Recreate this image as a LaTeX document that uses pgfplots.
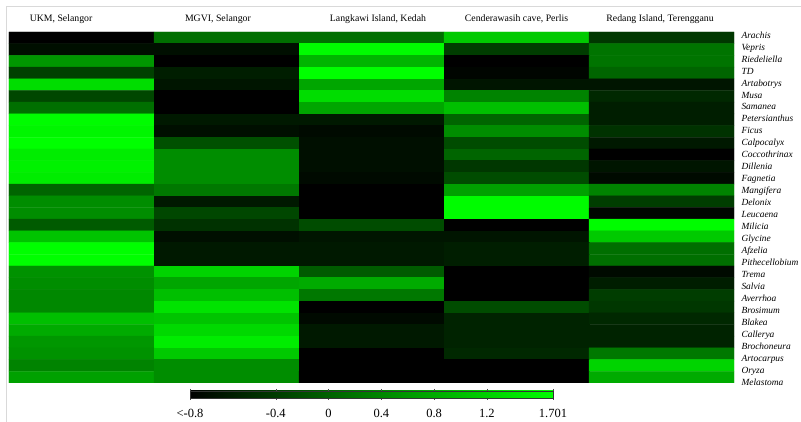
\documentclass[border=0pt]{standalone}
\usepackage{fontspec}
\setmainfont{Liberation Serif}
\usepackage{pgfplots}
\pgfplotsset{compat=1.18}
\usepackage{pgfplotstable}

% x: 0 UKM, 1 MGVI, 2 Langkawi, 3 Cenderawasih, 4 Redang ; y: row index (0 = Arachis)
\pgfplotstableread{
x y v
0 0 -1.05
1 0 0.14
2 0 0.14
3 0 1.11
4 0 -0.46
0 1 -0.89
1 1 -0.89
2 1 1.65
3 1 -0.40
4 1 0.19
0 2 0.57
1 2 -1.05
2 2 0.89
3 2 -1.05
4 2 0.19
0 3 -0.35
1 3 -0.73
2 3 1.70
3 3 -1.00
4 3 0.03
0 4 1.32
1 4 -0.83
2 4 0.73
3 4 -0.83
4 4 -0.83
0 5 -0.29
1 5 -1.05
2 5 1.32
3 5 0.35
4 5 -0.62
0 6 0.14
1 6 -1.05
2 6 0.73
3 6 1.00
4 6 -0.73
0 7 1.65
1 7 -0.78
2 7 -0.78
3 7 0.03
4 7 -0.73
0 8 1.59
1 8 -0.89
2 8 -0.94
3 8 0.46
4 8 -0.51
0 9 1.70
1 9 -0.19
2 9 -0.89
3 9 -0.24
4 9 -0.78
0 10 1.49
1 10 0.46
2 10 -0.89
3 10 0.03
4 10 -1.05
0 11 1.54
1 11 0.46
2 11 -0.89
3 11 -0.46
4 11 -0.83
0 12 1.49
1 12 0.46
2 12 -0.94
3 12 -0.24
4 12 -0.94
0 13 0.03
1 13 0.24
2 13 -1.05
3 13 0.68
4 13 0.35
0 14 0.46
1 14 -0.78
2 14 -1.05
3 14 1.65
4 14 -0.40
0 15 0.46
1 15 -0.29
2 15 -1.05
3 15 1.65
4 15 -1.00
0 16 -0.08
1 16 -0.51
2 16 -0.24
3 16 -1.05
4 16 1.65
0 17 1.05
1 17 -0.89
2 17 -0.83
3 17 -0.83
4 17 1.11
0 18 1.70
1 18 -0.78
2 18 -0.78
3 18 -0.73
4 18 0.14
0 19 1.70
1 19 -0.78
2 19 -0.78
3 19 -0.73
4 19 0.14
0 20 0.51
1 20 1.22
2 20 -0.08
3 20 -1.05
4 20 -0.94
0 21 0.46
1 21 0.73
2 21 0.78
3 21 -1.05
4 21 -0.73
0 22 0.41
1 22 1.00
2 22 0.24
3 22 -1.05
4 22 -0.40
0 23 0.41
1 23 1.38
2 23 -1.05
3 23 -0.24
4 23 -0.46
0 24 1.00
1 24 1.05
2 24 -0.94
3 24 -0.67
4 24 -0.62
0 25 0.78
1 25 1.27
2 25 -0.78
3 25 -0.67
4 25 -0.67
0 26 0.57
1 26 1.49
2 26 -0.78
3 26 -0.67
4 26 -0.67
0 27 0.51
1 27 1.11
2 27 -1.05
3 27 -0.62
4 27 0.24
0 28 0.35
1 28 0.46
2 28 -1.05
3 28 -1.05
4 28 1.22
0 29 0.68
1 29 0.46
2 29 -1.05
3 29 -1.05
4 29 0.78
}\heat

\begin{document}
\begin{tikzpicture}[x=1pt,y=1pt]
\useasboundingbox (0,0) rectangle (801,422);
\draw[black!15, line width=1pt] (6,0) -- (6,415) -- (801,415);
\begin{axis}[
  at={(9pt,39pt)}, anchor=south west,
  scale only axis, width=725pt, height=351pt,
  xmin=-0.5, xmax=4.5, ymin=-0.5, ymax=29.5,
  y dir=reverse,
  axis line style={draw=none},
  tick style={draw=none},
  xtick={-0.141,0.941,2.045,3,3.99},
  xticklabels={{UKM, Selangor},{MGVI, Selangor},{Langkawi Island, Kedah},{Cenderawasih cave, Perlis},{Redang Island, Terengganu}},
  xticklabel pos=upper,
  x tick label style={font=\fontsize{9.8}{11}\selectfont, anchor=base, yshift=10pt},
  major tick length=0pt,
  ytick={-0.244,0.779,1.801,2.824,3.846,4.869,5.892,6.914,7.937,8.959,9.982,11.005,12.027,13.050,14.072,15.095,16.118,17.140,18.163,19.185,20.208,21.231,22.253,23.276,24.298,25.321,26.344,27.366,28.389,29.411},
  yticklabels={Arachis,Vepris,Riedeliella,TD,Artabotrys,Musa,Samanea,Petersianthus,Ficus,Calpocalyx,Coccothrinax,Dillenia,Fagnetia,Mangifera,Delonix,Leucaena,Milicia,Glycine,Afzelia,Pithecellobium,Trema,Salvia,Averrhoa,Brosimum,Blakea,Callerya,Brochoneura,Artocarpus,Oryza,Melastoma},
  yticklabel pos=right,
  y tick label style={font=\fontsize{9.4}{10}\selectfont\itshape, anchor=base west, xshift=4pt, yshift=-3.2pt},
  colormap={greenmap}{rgb255=(0,0,0) rgb255=(0,255,0)},
  point meta min=-1.05, point meta max=1.701,
  colorbar horizontal,
  colorbar style={
    at={(0.2497,-0.0228)}, anchor=north west,
    scale only axis, width=363pt, height=7pt,
    xtick={-1.05,-0.4,0,0.4,0.8,1.2,1.701},
    xticklabels={{<-0.8},{-0.4},{0},{0.4},{0.8},{1.2},{1.701}},
    xticklabel pos=lower,
    x tick label style={font=\fontsize{12.5}{14}\selectfont, anchor=base, yshift=-18pt},
    xtick align=outside, major tick length=2pt,
    tick style={draw=black!70},
    axis line style={draw=black!80, line width=0.5pt},
  },
]
\addplot[matrix plot*, mesh/cols=5, mesh/ordering=x varies, point meta=explicit, shader=flat corner] table[x=x, y=y, meta=v] {\heat};
\end{axis}
\end{tikzpicture}
\end{document}
